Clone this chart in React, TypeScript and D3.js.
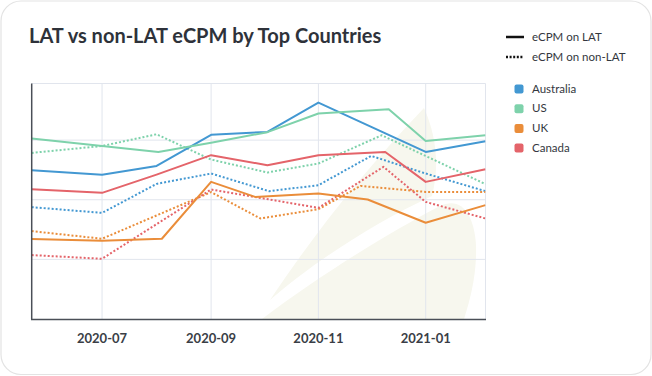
import React from "react";
import * as d3 from "d3";

const countries = ["Australia", "US", "UK", "Canada"];
const countryColors = ["#4398d2", "#7ed2ab", "#ea8d3a", "#e4646a"];
const styleLabels = ["eCPM on LAT", "eCPM on non-LAT"];
const xTickLabelFormat = "%Y-%m";

// [date, eCPM] pairs
const australiaLAT: [string, number][] = [
  ["2020-05-22", 12.48], ["2020-07-01", 12.09], ["2020-08-01", 12.84], ["2020-09-01", 15.45],
  ["2020-10-03", 15.69], ["2020-11-01", 18.15], ["2021-01-01", 14.01], ["2021-02-04", 14.91],
];
const usLAT: [string, number][] = [
  ["2020-05-22", 15.13], ["2020-07-01", 14.51], ["2020-08-02", 14.01], ["2020-09-01", 14.78],
  ["2020-10-03", 15.67], ["2020-11-01", 17.23], ["2020-12-11", 17.59], ["2021-01-01", 14.93],
  ["2021-02-04", 15.41],
];
const ukLAT: [string, number][] = [
  ["2020-05-22", 6.7], ["2020-07-01", 6.56], ["2020-08-04", 6.73], ["2020-09-01", 11.5],
  ["2020-09-26", 10.24], ["2020-11-01", 10.53], ["2020-11-29", 10.02], ["2021-01-01", 8.07],
  ["2021-02-04", 9.55],
];
const canadaLAT: [string, number][] = [
  ["2020-05-22", 10.89], ["2020-07-01", 10.58], ["2020-08-01", 12.11], ["2020-09-01", 13.74],
  ["2020-10-03", 12.9], ["2020-11-01", 13.74], ["2020-12-09", 14.01], ["2021-01-01", 11.5],
  ["2021-02-04", 12.56],
];
const australiaNonLAT: [string, number][] = [
  ["2020-05-22", 9.38], ["2020-07-01", 8.9], ["2020-08-01", 11.33], ["2020-09-01", 12.2],
  ["2020-10-04", 10.72], ["2020-11-01", 11.22], ["2020-12-01", 13.68], ["2021-01-01", 12.2],
  ["2021-02-04", 10.72],
];
const usNonLAT: [string, number][] = [
  ["2020-05-22", 13.93], ["2020-07-01", 14.51], ["2020-08-01", 15.49], ["2020-09-01", 13.37],
  ["2020-10-03", 12.29], ["2020-11-01", 13.04], ["2020-12-07", 15.41], ["2021-02-04", 11.31],
];
const ukNonLAT: [string, number][] = [
  ["2020-05-22", 7.37], ["2020-07-01", 6.73], ["2020-09-01", 10.64], ["2020-09-29", 8.43],
  ["2020-11-01", 9.21], ["2020-11-25", 11.16], ["2021-01-01", 10.66], ["2021-02-04", 10.66],
];
const canadaNonLAT: [string, number][] = [
  ["2020-05-22", 5.36], ["2020-07-01", 5.05], ["2020-09-01", 10.86], ["2020-11-01", 9.32],
  ["2020-12-08", 12.76], ["2021-01-01", 9.82], ["2021-02-04", 8.43],
];

const yGridValues = [5, 10, 15];
const yMax = 19.75;

const latSeries = [australiaLAT, usLAT, ukLAT, canadaLAT];
const nonLatSeries = [australiaNonLAT, usNonLAT, ukNonLAT, canadaNonLAT];

const parse = d3.timeParse("%Y-%m-%d");
const fmt = d3.timeFormat(xTickLabelFormat);

export default function App() {
  const left = 31.7, right = 485.5, top = 83.5, bottom = 319;
  const x = d3.scaleTime()
    .domain([parse("2020-05-22") as Date, parse("2021-02-04") as Date])
    .range([left, right]);
  const y = d3.scaleLinear().domain([0, yMax]).range([bottom, top]);
  const line = d3.line<[string, number]>()
    .x((d) => x(parse(d[0]) as Date))
    .y((d) => y(d[1]));
  const xTicks = x.ticks(d3.timeMonth.every(2) as any);
  const font = "Lato, 'Open Sans', sans-serif";
  const axisColor = "#4a4f57";
  const gridColor = "#e1e5ed";

  return (
    <svg width={652} height={376} style={{ position: "fixed", left: 0, top: 0, background: "#fff" }}>
      <defs>
        <clipPath id="plotClip">
          <rect x={left} y={top} width={right - left} height={bottom - top} />
        </clipPath>
      </defs>
      <rect x={1} y={1} width={650} height={373.5} rx={20} fill="#fff" stroke="#e3e3e3" strokeWidth={1.2} />
      <text x={29} y={43} fontFamily={font} fontWeight={700} fontSize={20} fill="#2e323a">
        LAT vs non-LAT eCPM by Top Countries
      </text>

      {/* watermark */}
      <g clipPath="url(#plotClip)" fill="#f7f7ee">
        <path d="M270,300 C310,240 360,175 424,108 C436,135 440,165 432,196 C370,225 310,265 270,300 Z" />
        <path d="M262,319 C320,275 390,232 440,206 C462,196 474,215 476,245 C477,275 470,300 464,319 Z" />
      </g>

      {/* grid */}
      <g stroke={gridColor} strokeWidth={1}>
        {yGridValues.map((v) => (
          <line key={"h" + v} x1={left} x2={right} y1={y(v)} y2={y(v)} />
        ))}
        <line x1={left} x2={right} y1={top} y2={top} />
        {xTicks.map((t) => (
          <line key={"v" + t.getTime()} x1={x(t)} x2={x(t)} y1={top} y2={bottom} />
        ))}
        <line x1={right} x2={right} y1={top} y2={bottom} />
      </g>

      {/* lines */}
      <g fill="none" strokeWidth={2} strokeLinejoin="round" clipPath="url(#plotClip)">
        {nonLatSeries.map((s, i) => (
          <path key={"n" + i} d={line(s) || ""} stroke={countryColors[i]} strokeDasharray="2,2" />
        ))}
        {latSeries.map((s, i) => (
          <path key={"l" + i} d={line(s) || ""} stroke={countryColors[i]} />
        ))}
      </g>

      {/* axes */}
      <line x1={left} x2={left} y1={top} y2={bottom} stroke={axisColor} strokeWidth={1.5} />
      <line x1={left - 0.7} x2={right + 0.5} y1={bottom + 0.5} y2={bottom + 0.5} stroke={axisColor} strokeWidth={1.5} />
      {xTicks.map((t) => (
        <text key={"t" + t.getTime()} x={x(t)} y={343} textAnchor="middle" fontFamily={font}
          fontWeight={700} fontSize={13} fill="#3a3e46">
          {fmt(t)}
        </text>
      ))}

      {/* style legend */}
      <g fontFamily={font} fontSize={11.5} fill="#33373e">
        <line x1={506} x2={524} y1={37} y2={37} stroke="#111" strokeWidth={2.5} />
        <text x={532} y={41}>{styleLabels[0]}</text>
        <line x1={506} x2={524} y1={57} y2={57} stroke="#111" strokeWidth={2.5} strokeDasharray="2,1.6" />
        <text x={532} y={61}>{styleLabels[1]}</text>
        {countries.map((c, i) => (
          <g key={c}>
            <rect x={514.5} y={84.5 + i * 19.7} width={9} height={9} rx={2} fill={countryColors[i]} />
            <text x={532} y={92.7 + i * 19.7}>{c}</text>
          </g>
        ))}
      </g>
    </svg>
  );
}
